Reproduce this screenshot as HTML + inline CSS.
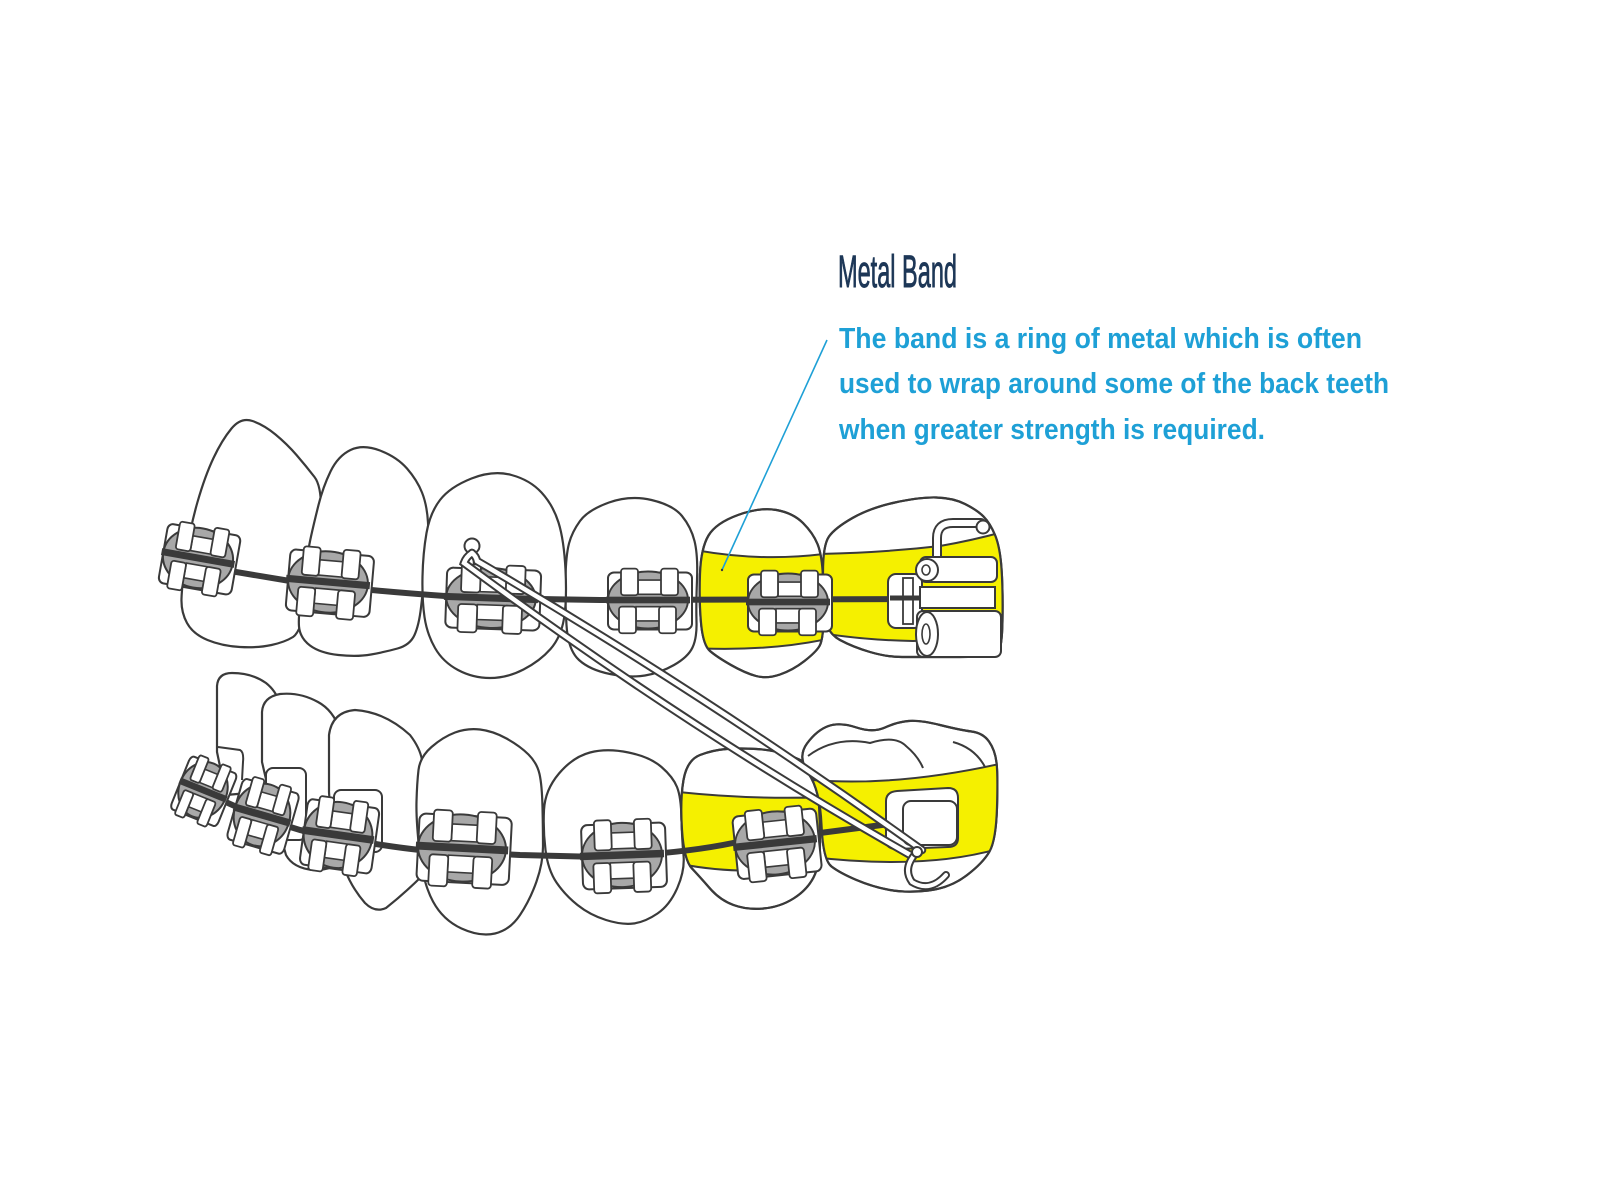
<!DOCTYPE html>
<html>
<head>
<meta charset="utf-8">
<style>
  html,body{margin:0;padding:0;background:#fff;}
  svg{display:block;}
</style>
</head>
<body>
<svg width="1600" height="1200" viewBox="0 0 1600 1200" xmlns="http://www.w3.org/2000/svg">
<defs>
  <g id="br">
    <rect x="-40" y="-29" width="84" height="60" rx="6" fill="#fff" stroke="#3a3a3a" stroke-width="2" vector-effect="non-scaling-stroke"/>
    <ellipse cx="0" cy="0" rx="40" ry="30" fill="#a8a8a8" stroke="#3a3a3a" stroke-width="2" vector-effect="non-scaling-stroke"/>
    <rect x="-10" y="-21" width="24" height="15" fill="#fff" stroke="#3a3a3a" stroke-width="1.6" vector-effect="non-scaling-stroke"/>
    <rect x="-12" y="7" width="24" height="15" fill="#fff" stroke="#3a3a3a" stroke-width="1.6" vector-effect="non-scaling-stroke"/>
    <rect x="-42" y="-3.5" width="84" height="7" fill="#3a3a3a"/>
    <rect x="-27" y="-33" width="17" height="28" rx="3" fill="#fff" stroke="#3a3a3a" stroke-width="1.8" vector-effect="non-scaling-stroke"/>
    <rect x="13" y="-33" width="17" height="28" rx="3" fill="#fff" stroke="#3a3a3a" stroke-width="1.8" vector-effect="non-scaling-stroke"/>
    <rect x="-29" y="7" width="17" height="28" rx="3" fill="#fff" stroke="#3a3a3a" stroke-width="1.8" vector-effect="non-scaling-stroke"/>
    <rect x="11" y="7" width="17" height="28" rx="3" fill="#fff" stroke="#3a3a3a" stroke-width="1.8" vector-effect="non-scaling-stroke"/>
  </g>
  <clipPath id="cU5"><path d="M738,515 Q760,507 776.5,510 Q793,513 803,523 Q813,533 817.5,544 Q822,555 823,577.5 Q824,600 823.5,620 Q823,640 819.5,646 Q816,652 804.5,661 Q793,670 780,674.5 Q767,679 756,676 Q745,673 731,665 Q717,657 710,651 Q703,645 701,622.5 Q699,600 700,574 Q701,548 708.5,535.5 Q716,523 738,515 Z"/></clipPath>
  <clipPath id="cU6"><path d="M823,572.5 Q823,545 829,536.5 Q835,528 852.5,518 Q870,508 895,502.5 Q920,497 936.5,497.5 Q953,498 965,504 Q977,510 983.5,516.5 Q990,523 995,535 Q1000,547 1001.5,568.5 Q1003,590 1002.5,620 Q1002,650 997.5,653.5 Q993,657 955,657 Q917,657 902,657 Q887,657 870,652 Q853,647 840,640 Q827,633 825,616.5 Q823,600 823,572.5 Z"/></clipPath>
  <clipPath id="cLf"><path d="M726.5,749 Q740,748 756.5,749 Q773,750 788,755 Q803,760 810,766.5 Q817,773 818.5,796.5 Q820,820 820,842.5 Q820,865 813.5,877.5 Q807,890 793.5,898.5 Q780,907 763.5,908.5 Q747,910 733.5,905 Q720,900 710,888.5 Q700,877 692,868.5 Q684,860 682,830 Q680,800 683.5,780 Q687,760 700,755 Q713,750 726.5,749 Z"/></clipPath>
  <clipPath id="cLg"><path d="M808.5,773.5 Q797,757 807,743.5 Q817,730 828.5,726 Q840,722 856.5,727.5 Q873,733 885,727.5 Q897,722 908.5,721 Q920,720 940,725 Q960,730 971.5,731.5 Q983,733 989,741.5 Q995,750 996.5,762.5 Q998,775 997,807.5 Q996,840 989.5,851.5 Q983,863 966.5,875.5 Q950,888 928.5,890.5 Q907,893 890,890 Q873,887 856.5,880 Q840,873 831.5,866.5 Q823,860 821.5,825 Q820,790 808.5,773.5 Z"/></clipPath>
</defs>

<rect width="1600" height="1200" fill="#fff"/>

<g fill="#fff" stroke="#3a3a3a" stroke-width="2.2" stroke-linejoin="round">
  <!-- LOWER ROW -->
  <path d="M217,752 L217,686 Q218,673 232,673 Q252,673 266,683 Q276,691 279,702 L282,790 L226,795 Z"/>
  <path d="M262,762 L262,712 Q263,697 280,694 Q300,692 318,702 Q333,710 340,730 L345,860 Q330,871 313,870 Q293,868 286,855 L272,805 Z"/>
  <path d="M329,792 L329,735 Q332,712 355,710 Q385,712 410,735 Q420,748 422,760 L423,875 Q405,893 386,908 Q375,913 365,903 Q352,888 345,870 L331,822 Z"/>
  <path d="M455,732.5 Q467,728 480,729.5 Q493,731 506.5,738.5 Q520,746 528.5,754.5 Q537,763 539.5,774 Q542,785 542.5,807.5 Q543,830 543,846.5 Q543,863 536.5,881.5 Q530,900 520,915 Q510,930 495,933.5 Q480,937 461.5,928.5 Q443,920 433,901.5 Q423,883 419.5,851.5 Q416,820 416.5,801.5 Q417,783 418.5,770 Q420,757 431.5,747 Q443,737 455,732.5 Z"/>
  <path d="M590,752.5 Q607,748 628.5,752.5 Q650,757 661.5,767 Q673,777 677,787 Q681,797 681.5,818.5 Q682,840 683.5,855 Q685,870 677.5,887.5 Q670,905 657.5,913.5 Q645,922 633.5,923.5 Q622,925 606,920 Q590,915 577.5,905 Q565,895 556.5,882.5 Q548,870 545.5,850 Q543,830 544,810 Q545,790 559,773.5 Q573,757 590,752.5 Z"/>
  <path d="M726.5,749 Q740,748 756.5,749 Q773,750 788,755 Q803,760 810,766.5 Q817,773 818.5,796.5 Q820,820 820,842.5 Q820,865 813.5,877.5 Q807,890 793.5,898.5 Q780,907 763.5,908.5 Q747,910 733.5,905 Q720,900 710,888.5 Q700,877 692,868.5 Q684,860 682,830 Q680,800 683.5,780 Q687,760 700,755 Q713,750 726.5,749 Z"/>
</g>
<g clip-path="url(#cLf)">
  <path d="M670,791 Q745,800 830,797 L830,858 Q760,881 670,862 Z" fill="#f5f000" stroke="#3a3a3a" stroke-width="2"/>
</g>
<path d="M726.5,749 Q740,748 756.5,749 Q773,750 788,755 Q803,760 810,766.5 Q817,773 818.5,796.5 Q820,820 820,842.5 Q820,865 813.5,877.5 Q807,890 793.5,898.5 Q780,907 763.5,908.5 Q747,910 733.5,905 Q720,900 710,888.5 Q700,877 692,868.5 Q684,860 682,830 Q680,800 683.5,780 Q687,760 700,755 Q713,750 726.5,749 Z" fill="none" stroke="#3a3a3a" stroke-width="2.2"/>

<path d="M808.5,773.5 Q797,757 807,743.5 Q817,730 828.5,726 Q840,722 856.5,727.5 Q873,733 885,727.5 Q897,722 908.5,721 Q920,720 940,725 Q960,730 971.5,731.5 Q983,733 989,741.5 Q995,750 996.5,762.5 Q998,775 997,807.5 Q996,840 989.5,851.5 Q983,863 966.5,875.5 Q950,888 928.5,890.5 Q907,893 890,890 Q873,887 856.5,880 Q840,873 831.5,866.5 Q823,860 821.5,825 Q820,790 808.5,773.5 Z" fill="#fff" stroke="#3a3a3a" stroke-width="2.2"/>
<g clip-path="url(#cLg)">
  <path d="M812,780 Q900,787 1008,762 L1008,846 Q930,871 812,857 Z" fill="#f5f000" stroke="#3a3a3a" stroke-width="2"/>
</g>
<path d="M808.5,773.5 Q797,757 807,743.5 Q817,730 828.5,726 Q840,722 856.5,727.5 Q873,733 885,727.5 Q897,722 908.5,721 Q920,720 940,725 Q960,730 971.5,731.5 Q983,733 989,741.5 Q995,750 996.5,762.5 Q998,775 997,807.5 Q996,840 989.5,851.5 Q983,863 966.5,875.5 Q950,888 928.5,890.5 Q907,893 890,890 Q873,887 856.5,880 Q840,873 831.5,866.5 Q823,860 821.5,825 Q820,790 808.5,773.5 Z" fill="none" stroke="#3a3a3a" stroke-width="2.2"/>
<g fill="none" stroke="#3a3a3a" stroke-width="2">
  <path d="M808,756 Q835,736 870,743 Q895,735 906,746 Q918,756 923,768"/>
  <path d="M953,742 Q975,748 985,767"/>
</g>

<!-- lower pads -->
<g fill="#fff" stroke="#3a3a3a" stroke-width="2">
  <rect x="266" y="768" width="40" height="72" rx="7"/>
  <rect x="334" y="790" width="48" height="62" rx="7"/>
  <path d="M218,747 L240,750 Q244,752 243,762 L242,780"/>
</g>

<!-- lower wire -->
<path d="M186,782 Q240,812 300,830 Q373,845 420,850 L520,855 L600,857 Q680,854 733,843 L820,833 L905,822" fill="none" stroke="#3a3a3a" stroke-width="6" stroke-linecap="round"/>

<!-- lower brackets -->
<use href="#br" transform="translate(203,790) rotate(22) scale(0.6,0.95)"/>
<use href="#br" transform="translate(262,815) rotate(16) scale(0.7,1.05)"/>
<use href="#br" transform="translate(338,835) rotate(8) scale(0.86,1.1)"/>
<use href="#br" transform="translate(462,848) rotate(3) scale(1.1,1.12)"/>
<use href="#br" transform="translate(622,855) rotate(-2) scale(1,1.07)"/>
<use href="#br" transform="translate(775,843) rotate(-6) scale(1,1.05)"/>

<!-- lower tube -->
<path d="M886,801 Q886,792 897,791 L948,788 Q958,788 958,798 L958,838 Q958,847 948,847 L897,849 Q886,849 886,840 Z" fill="#fff" stroke="#3a3a3a" stroke-width="2"/>
<rect x="903" y="801" width="54" height="44" rx="8" fill="#fff" stroke="#3a3a3a" stroke-width="2"/>

<!-- UPPER ROW -->
<g fill="#fff" stroke="#3a3a3a" stroke-width="2.2" stroke-linejoin="round">
  <path d="M231.5,428.5 Q241,417 252.5,421 Q264,425 275.5,434.5 Q287,444 296.5,455 Q306,466 314.5,477 Q323,488 320.5,524 Q318,560 309.5,596 Q301,632 293,637 Q285,642 271.5,645 Q258,648 240,647 Q222,646 207.5,640 Q193,634 187,623 Q181,612 181.5,598.5 Q182,585 186,556.5 Q190,528 197.5,502 Q205,476 213.5,458 Q222,440 231.5,428.5 Z"/>
  <path d="M350.5,450 Q363,444 380,450.5 Q397,457 407,468.5 Q417,480 422,492.5 Q427,505 428,522.5 Q429,540 426,565 Q423,590 421,607.5 Q419,625 414.5,635 Q410,645 397.5,648.5 Q385,652 371,654.5 Q357,657 338.5,655 Q320,653 310,645.5 Q300,638 299,626.5 Q298,615 303,582.5 Q308,550 311,536.5 Q314,523 318.5,505 Q323,487 330.5,471.5 Q338,456 350.5,450 Z"/>
  <path d="M609,502.5 Q630,495 651.5,500 Q673,505 682,516 Q691,527 694.5,541 Q698,555 697,580 Q696,605 696.5,621.5 Q697,638 692.5,647.5 Q688,657 674,665 Q660,673 645,675.5 Q630,678 610,674 Q590,670 579,660 Q568,650 566.5,625 Q565,600 565.5,577.5 Q566,555 569,543.5 Q572,532 580,521 Q588,510 609,502.5 Z"/>
  <path d="M471.5,478.5 Q493,470 511.5,475 Q530,480 541.5,492.5 Q553,505 558.5,522.5 Q564,540 565.5,570 Q567,600 564,618.5 Q561,637 550.5,649 Q540,661 523.5,669.5 Q507,678 490,678 Q473,678 458,670 Q443,662 435,648 Q427,634 424.5,617 Q422,600 422.5,576.5 Q423,553 426.5,533 Q430,513 440,500 Q450,487 471.5,478.5 Z"/>
  <path d="M738,515 Q760,507 776.5,510 Q793,513 803,523 Q813,533 817.5,544 Q822,555 823,577.5 Q824,600 823.5,620 Q823,640 819.5,646 Q816,652 804.5,661 Q793,670 780,674.5 Q767,679 756,676 Q745,673 731,665 Q717,657 710,651 Q703,645 701,622.5 Q699,600 700,574 Q701,548 708.5,535.5 Q716,523 738,515 Z"/>
</g>
<g clip-path="url(#cU5)">
  <path d="M690,549 Q760,563 832,553 L832,638 Q770,652 690,648 Z" fill="#f5f000" stroke="#3a3a3a" stroke-width="2"/>
</g>
<path d="M738,515 Q760,507 776.5,510 Q793,513 803,523 Q813,533 817.5,544 Q822,555 823,577.5 Q824,600 823.5,620 Q823,640 819.5,646 Q816,652 804.5,661 Q793,670 780,674.5 Q767,679 756,676 Q745,673 731,665 Q717,657 710,651 Q703,645 701,622.5 Q699,600 700,574 Q701,548 708.5,535.5 Q716,523 738,515 Z" fill="none" stroke="#3a3a3a" stroke-width="2.2"/>

<path d="M823,572.5 Q823,545 829,536.5 Q835,528 852.5,518 Q870,508 895,502.5 Q920,497 936.5,497.5 Q953,498 965,504 Q977,510 983.5,516.5 Q990,523 995,535 Q1000,547 1001.5,568.5 Q1003,590 1002.5,620 Q1002,650 997.5,653.5 Q993,657 955,657 Q917,657 902,657 Q887,657 870,652 Q853,647 840,640 Q827,633 825,616.5 Q823,600 823,572.5 Z" fill="#fff" stroke="#3a3a3a" stroke-width="2.2"/>
<g clip-path="url(#cU6)">
  <path d="M815,554 Q880,553 940,546 Q975,540 1010,530 L1010,625 Q960,640 913,641 Q860,640 815,632 Z" fill="#f5f000" stroke="#3a3a3a" stroke-width="2"/>
</g>
<path d="M823,572.5 Q823,545 829,536.5 Q835,528 852.5,518 Q870,508 895,502.5 Q920,497 936.5,497.5 Q953,498 965,504 Q977,510 983.5,516.5 Q990,523 995,535 Q1000,547 1001.5,568.5 Q1003,590 1002.5,620 Q1002,650 997.5,653.5 Q993,657 955,657 Q917,657 902,657 Q887,657 870,652 Q853,647 840,640 Q827,633 825,616.5 Q823,600 823,572.5 Z" fill="none" stroke="#3a3a3a" stroke-width="2.2"/>

<!-- upper wire -->
<path d="M168,554 L230,571 L290,581 Q360,590 445,596 Q520,599 600,600 L925,599" fill="none" stroke="#3a3a3a" stroke-width="6" stroke-linecap="round"/>

<!-- upper brackets -->
<use href="#br" transform="translate(198,558) rotate(10) scale(0.88,1)"/>
<use href="#br" transform="translate(328,582) rotate(5) scale(1,1.02)"/>
<use href="#br" transform="translate(491,598) rotate(2) scale(1.12,1)"/>
<use href="#br" transform="translate(648,600) scale(1,0.95)"/>
<use href="#br" transform="translate(788,602) scale(1,0.95)"/>

<!-- U6 tube assembly -->
<path d="M937,560 L937,538 Q937,523 953,523 L981,523" fill="none" stroke="#3a3a3a" stroke-width="10" stroke-linecap="round"/>
<path d="M937,560 L937,538 Q937,523 953,523 L981,523" fill="none" stroke="#fff" stroke-width="6" stroke-linecap="round"/>
<circle cx="983" cy="527" r="6.5" fill="#fff" stroke="#3a3a3a" stroke-width="2"/>
<rect x="888" y="574" width="34" height="54" rx="8" fill="#fff" stroke="#3a3a3a" stroke-width="2"/>
<rect x="903" y="578" width="10" height="46" fill="#fff" stroke="#3a3a3a" stroke-width="1.8"/>
<path d="M890,598 L922,598" stroke="#3a3a3a" stroke-width="5"/>
<rect x="920" y="557" width="77" height="25" rx="6" fill="#fff" stroke="#3a3a3a" stroke-width="2"/>
<circle cx="927" cy="570" r="11" fill="#fff" stroke="#3a3a3a" stroke-width="2"/>
<ellipse cx="926" cy="570" rx="4" ry="5" fill="#fff" stroke="#3a3a3a" stroke-width="1.6"/>
<rect x="920" y="587" width="75" height="21" fill="#fff" stroke="#3a3a3a" stroke-width="2"/>
<rect x="917" y="611" width="84" height="46" rx="6" fill="#fff" stroke="#3a3a3a" stroke-width="2"/>
<ellipse cx="927" cy="634" rx="11" ry="22" fill="#fff" stroke="#3a3a3a" stroke-width="2"/>
<ellipse cx="926" cy="634" rx="4" ry="10" fill="#fff" stroke="#3a3a3a" stroke-width="1.6"/>

<!-- U3 hook ball -->
<path d="M471,563 L472,551" stroke="#3a3a3a" stroke-width="7" stroke-linecap="round"/>
<path d="M471,563 L472,551" stroke="#fff" stroke-width="3.5" stroke-linecap="round"/>
<circle cx="472" cy="546" r="7.5" fill="#fff" stroke="#3a3a3a" stroke-width="2"/>

<!-- elastic -->
<g fill="none" stroke-linecap="round">
  <path d="M472,553 Q466,557 464,563 Q688,729 912,856" stroke="#3a3a3a" stroke-width="8.5"/>
  <path d="M472,553 Q476,556 477,561 Q700,691 922,850" stroke="#3a3a3a" stroke-width="8.5"/>
  <path d="M472,553 Q466,557 464,563 Q688,729 912,856" stroke="#fff" stroke-width="4.5"/>
  <path d="M472,553 Q476,556 477,561 Q700,691 922,850" stroke="#fff" stroke-width="4.5"/>
</g>

<!-- lower hook -->
<path d="M917,852 Q902,868 912,882 Q930,893 946,875" fill="none" stroke="#3a3a3a" stroke-width="8" stroke-linecap="round"/>
<path d="M917,852 Q902,868 912,882 Q930,893 946,875" fill="none" stroke="#fff" stroke-width="4" stroke-linecap="round"/>
<circle cx="917" cy="852" r="5" fill="#fff" stroke="#3a3a3a" stroke-width="2"/>

<!-- leader line -->
<line x1="827" y1="340" x2="722" y2="570" stroke="#1ea0d6" stroke-width="1.6"/>
<circle cx="722" cy="570" r="1.2" fill="#3a3a3a"/>

<!-- text -->
<text x="838" y="287" font-family="'Liberation Sans Narrow','Liberation Sans',sans-serif" font-size="45" fill="#1d3757" stroke="#1d3757" stroke-width="0.9" textLength="119" lengthAdjust="spacingAndGlyphs">Metal Band</text>
<g font-family="'Liberation Sans Narrow','Liberation Sans',sans-serif" font-size="29" font-weight="bold" fill="#1ea0d6">
  <text x="839" y="348" textLength="523" lengthAdjust="spacingAndGlyphs">The band is a ring of metal which is often</text>
  <text x="839" y="393" textLength="550" lengthAdjust="spacingAndGlyphs">used to wrap around some of the back teeth</text>
  <text x="839" y="439" textLength="426" lengthAdjust="spacingAndGlyphs">when greater strength is required.</text>
</g>
</svg>
</body>
</html>
